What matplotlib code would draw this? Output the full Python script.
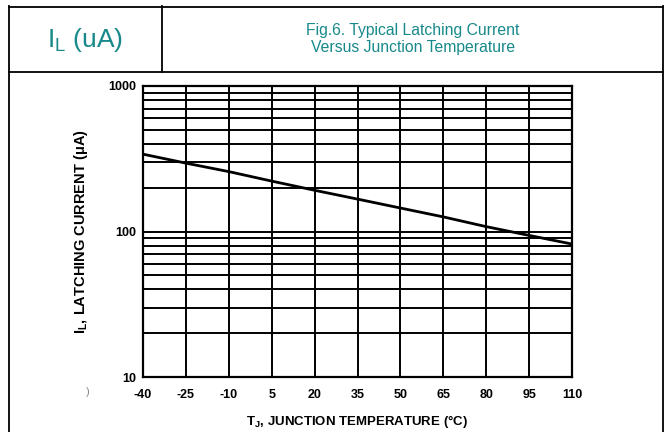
import matplotlib.pyplot as plt
from matplotlib.lines import Line2D
from matplotlib.ticker import FixedLocator, NullFormatter

# junction temperature (deg C) and typical latching current (uA)
temps = [-40, -25, -10, 5, 20, 35, 50, 65, 80, 95, 110]
latch_ua = [340, 295, 258, 222, 192, 167, 145, 126, 108, 94, 82]
xticks = [-40, -25, -10, 5, 20, 35, 50, 65, 80, 95, 110]
yticks = [10, 100, 1000]
ylabels = ['10', '100', '1000']
minor_y = [20, 30, 40, 50, 60, 70, 80, 90, 200, 300, 400, 500, 600, 700, 800, 900]

TEAL = '#17898a'
W, H = 667, 432

plt.rcParams['font.family'] = ['Liberation Sans', 'DejaVu Sans']

fig = plt.figure(figsize=(W / 100, H / 100), dpi=100)


def px(x, y):
    return x / W, 1 - y / H


# table frame
def fline(x0, y0, x1, y1):
    a, b = px(x0, y0)
    c, d = px(x1, y1)
    fig.add_artist(Line2D([a, c], [b, d], color='black', lw=1.3, transform=fig.transFigure))


fline(9, 6.5, 663, 6.5)
fline(9, 72, 663, 72)
fline(9, 6, 9, 432)
fline(663, 6, 663, 432)
fline(162, 6, 162, 72)

# header texts
fig.text(*px(85, 40), r'I$_\mathregular{L}$ (uA)', color=TEAL, fontsize=19,
         ha='center', va='center')
fig.text(*px(413, 39), 'Fig.6. Typical Latching Current\nVersus Junction Temperature',
         color=TEAL, fontsize=11.3, ha='center', va='center', linespacing=1.1)

ax = fig.add_axes([143 / W, 1 - 377 / H, (572 - 143) / W, (377 - 86) / H])
ax.set_yscale('log')
ax.set_xlim(-40, 110)
ax.set_ylim(10, 1000)

ax.set_xticks(xticks)
ax.set_xticklabels([str(t) for t in xticks], fontsize=9, fontweight='bold')
ax.yaxis.set_major_locator(FixedLocator(yticks))
ax.set_yticklabels(ylabels, fontsize=9, fontweight='bold')
ax.yaxis.set_minor_locator(FixedLocator(minor_y))
ax.yaxis.set_minor_formatter(NullFormatter())
ax.tick_params(which='both', length=0)
ax.tick_params(axis='x', pad=9)
ax.tick_params(axis='y', pad=5)

ax.grid(True, which='major', axis='both', color='black', lw=1.4)
ax.grid(True, which='minor', axis='y', color='black', lw=1.4)
for s in ax.spines.values():
    s.set_linewidth(1.6)

ax.plot(temps, latch_ua, color='black', lw=2, solid_capstyle='butt', zorder=5)

ax.set_xlabel(r'T$_\mathregular{J}$, JUNCTION TEMPERATURE (°C)', fontsize=9.5,
              fontweight='bold', labelpad=8)
ax.set_ylabel(r'I$_\mathregular{L}$, LATCHING CURRENT (μA)', fontsize=10.5,
              fontweight='bold', labelpad=13)

# stray fragment left of the axis in the scan
fig.text(*px(88, 392), ')', fontsize=8, color='#888888', ha='center', va='center')

fig.savefig('out.png', dpi=100)
